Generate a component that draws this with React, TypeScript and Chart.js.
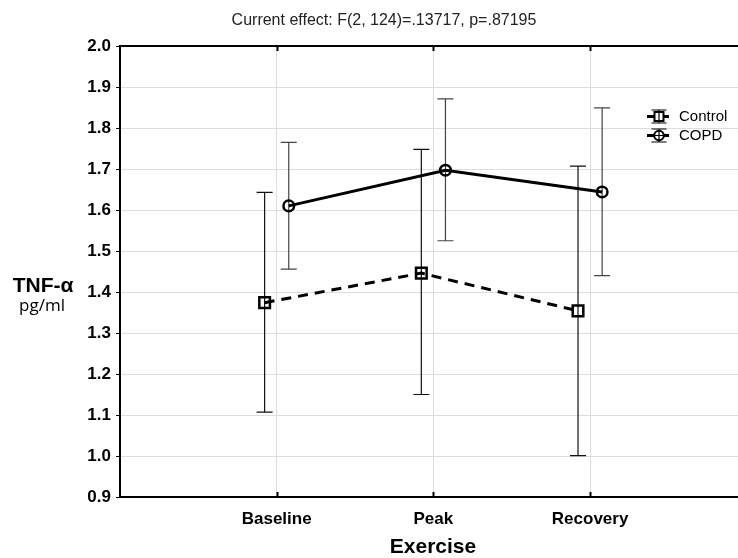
import { useEffect, useRef } from "react";
import { Chart, registerables } from "chart.js";
Chart.register(...registerables);

const categories = ["Baseline", "Peak", "Recovery"];
const controlMean = [1.374, 1.446, 1.354];
const controlLow = [1.107, 1.15, 1.001];
const controlHigh = [1.643, 1.748, 1.707];
const copdMean = [1.61, 1.697, 1.644];
const copdLow = [1.456, 1.525, 1.44];
const copdHigh = [1.765, 1.871, 1.849];
const yTicks = [0.9, 1.0, 1.1, 1.2, 1.3, 1.4, 1.5, 1.6, 1.7, 1.8, 1.9, 2.0];
const titleText = "Current effect: F(2, 124)=.13717, p=.87195";
const seriesNames = ["Control", "COPD"];

const OFFSET = 0.077;

const overlay = {
  id: "overlay",
  beforeDatasetsDraw(chart: any) {
    const { ctx, scales } = chart;
    const x = scales.x;
    const y = scales.y;
    const drawBars = (low: number[], high: number[], off: number, color: string) => {
      ctx.save();
      ctx.strokeStyle = color;
      ctx.lineWidth = 1.2;
      low.forEach((lo, i) => {
        const px = x.getPixelForValue(i + 1 + off);
        const y1 = y.getPixelForValue(lo);
        const y2 = y.getPixelForValue(high[i]);
        ctx.beginPath();
        ctx.moveTo(px, y1);
        ctx.lineTo(px, y2);
        ctx.moveTo(px - 8, y1);
        ctx.lineTo(px + 8, y1);
        ctx.moveTo(px - 8, y2);
        ctx.lineTo(px + 8, y2);
        ctx.stroke();
      });
      ctx.restore();
    };
    drawBars(controlLow, controlHigh, -OFFSET, "#111");
    drawBars(copdLow, copdHigh, OFFSET, "#444");
  },
  afterDraw(chart: any) {
    const { ctx, chartArea, scales } = chart;
    const x = scales.x;
    ctx.save();
    // top border
    ctx.strokeStyle = "#000";
    ctx.lineWidth = 2;
    ctx.beginPath();
    ctx.moveTo(chartArea.left - 1, chartArea.top);
    ctx.lineTo(chartArea.right, chartArea.top);
    ctx.stroke();
    // inward ticks
    ctx.lineWidth = 2;
    categories.forEach((_, i) => {
      const px = Math.round(x.getPixelForValue(i + 1)) + 0.5;
      ctx.beginPath();
      ctx.moveTo(px, chartArea.top);
      ctx.lineTo(px, chartArea.top + 5);
      ctx.moveTo(px, chartArea.bottom);
      ctx.lineTo(px, chartArea.bottom - 5);
      ctx.stroke();
    });
    // title
    ctx.fillStyle = "#222";
    ctx.textAlign = "center";
    ctx.textBaseline = "middle";
    ctx.font = '16px "Liberation Sans", Arial, sans-serif';
    ctx.fillText(titleText, 384, 21);
    // y title
    ctx.fillStyle = "#000";
    ctx.font = 'bold 21px "Liberation Sans", Arial, sans-serif';
    ctx.fillText("TNF-α", 43, 286);
    ctx.font = '17px "Open Sans", sans-serif';
    ctx.fillText("pg/ml", 42, 306);
    // x title
    ctx.font = 'bold 21px "Liberation Sans", Arial, sans-serif';
    ctx.fillText("Exercise", 433, 547);
    // legend
    const rows = [116.5, 135.5];
    ctx.textAlign = "left";
    ctx.font = '15px "Liberation Sans", Arial, sans-serif';
    rows.forEach((ry, i) => {
      const cx = 659;
      ctx.strokeStyle = "#000";
      ctx.lineWidth = 1.2;
      ctx.beginPath();
      ctx.moveTo(cx, ry - 6.5);
      ctx.lineTo(cx, ry + 6.5);
      ctx.moveTo(cx - 7.5, ry - 6.5);
      ctx.lineTo(cx + 7.5, ry - 6.5);
      ctx.moveTo(cx - 7.5, ry + 6.5);
      ctx.lineTo(cx + 7.5, ry + 6.5);
      ctx.stroke();
      ctx.lineWidth = 3;
      ctx.beginPath();
      ctx.moveTo(647, ry);
      ctx.lineTo(669, ry);
      ctx.stroke();
      ctx.lineWidth = 2;
      ctx.fillStyle = "#fff";
      if (i === 0) {
        ctx.fillRect(cx - 4.5, ry - 4.5, 9, 9);
        ctx.strokeRect(cx - 4.5, ry - 4.5, 9, 9);
        ctx.lineWidth = 1.2;
        ctx.beginPath();
        ctx.moveTo(cx, ry - 4.5);
        ctx.lineTo(cx, ry + 4.5);
        ctx.stroke();
      } else {
        ctx.beginPath();
        ctx.arc(cx, ry, 4.8, 0, Math.PI * 2);
        ctx.fill();
        ctx.stroke();
        ctx.lineWidth = 1.2;
        ctx.beginPath();
        ctx.moveTo(cx, ry - 4.8);
        ctx.lineTo(cx, ry + 4.8);
        ctx.moveTo(cx - 4.8, ry);
        ctx.lineTo(cx + 4.8, ry);
        ctx.stroke();
      }
      ctx.fillStyle = "#000";
      ctx.fillText(seriesNames[i], 679, ry);
    });
    ctx.restore();
  },
};

export default function App() {
  const ref = useRef<HTMLCanvasElement | null>(null);
  useEffect(() => {
    if (!ref.current) return;
    const chart = new Chart(ref.current, {
      type: "line",
      data: {
        datasets: [
          {
            label: seriesNames[0],
            data: controlMean.map((v, i) => ({ x: i + 1 - OFFSET, y: v })),
            borderColor: "#000",
            borderWidth: 3,
            borderDash: [10, 7],
            pointStyle: "rect",
            pointRadius: 7.5,
            pointBorderWidth: 2.5,
            pointBorderColor: "#000",
            pointBackgroundColor: "rgba(0,0,0,0)",
            tension: 0,
          },
          {
            label: seriesNames[1],
            data: copdMean.map((v, i) => ({ x: i + 1 + OFFSET, y: v })),
            borderColor: "#000",
            borderWidth: 3,
            pointStyle: "circle",
            pointRadius: 5.3,
            pointBorderWidth: 2.5,
            pointBorderColor: "#000",
            pointBackgroundColor: "rgba(0,0,0,0)",
            tension: 0,
          },
        ],
      },
      options: {
        animation: false,
        responsive: false,
        maintainAspectRatio: false,
        layout: { autoPadding: false, padding: { top: 46, right: 0, left: 0, bottom: 0 } },
        plugins: { legend: { display: false }, title: { display: false }, tooltip: { enabled: false } },
        scales: {
          x: {
            type: "linear",
            min: 0,
            max: 3.944,
            afterBuildTicks: (s: any) => {
              s.ticks = categories.map((_, i) => ({ value: i + 1 }));
            },
            afterFit: (s: any) => {
              s.height = 61;
              s.paddingLeft = 0;
              s.paddingRight = 0;
            },
            grid: { color: "#dddddd", lineWidth: 1, drawTicks: false },
            border: { color: "#000", width: 2 },
            ticks: {
              padding: 12,
              color: "#000",
              font: { family: '"Liberation Sans", Arial, sans-serif', size: 17, weight: "bold" },
              callback: (v: any) => categories[Math.round(Number(v)) - 1] ?? "",
              maxRotation: 0,
              autoSkip: false,
            },
          },
          y: {
            type: "linear",
            min: 0.9,
            max: 2.0,
            afterBuildTicks: (s: any) => {
              s.ticks = yTicks.map((v) => ({ value: v }));
            },
            afterFit: (s: any) => {
              s.width = 120;
              s.paddingTop = 0;
              s.paddingBottom = 0;
            },
            grid: { color: "#dddddd", lineWidth: 1, tickColor: "#000", tickLength: 4 },
            border: { color: "#000", width: 2 },
            ticks: {
              padding: 5,
              color: "#000",
              font: { family: '"Liberation Sans", Arial, sans-serif', size: 17, weight: "bold" },
              callback: (v: any) => Number(v).toFixed(1),
              autoSkip: false,
            },
          },
        },
      },
      plugins: [overlay],
    });
    return () => chart.destroy();
  }, []);
  return (
    <div style={{ position: "fixed", left: 0, top: 0, width: 738, height: 558, background: "#fff" }}>
      <canvas ref={ref} width={738} height={558} style={{ width: 738, height: 558, display: "block" }} />
    </div>
  );
}
